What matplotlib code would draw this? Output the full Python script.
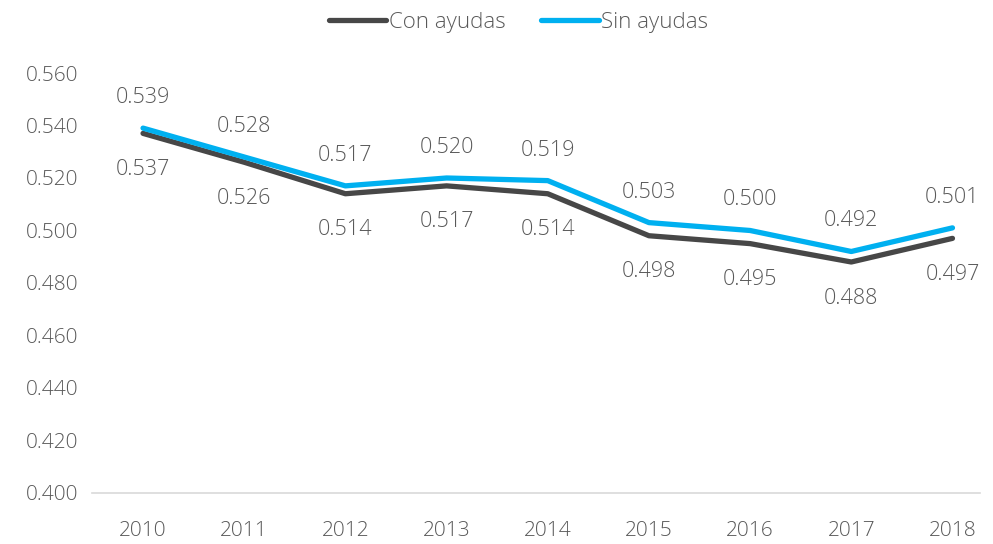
import numpy as np
import matplotlib.pyplot as plt

plt.rcParams['font.family'] = ['Open Sans', 'DejaVu Sans']
plt.rcParams['font.weight'] = 'light'

years = [2010, 2011, 2012, 2013, 2014, 2015, 2016, 2017, 2018]
con_ayudas = [0.537, 0.526, 0.514, 0.517, 0.514, 0.498, 0.495, 0.488, 0.497]
sin_ayudas = [0.539, 0.528, 0.517, 0.520, 0.519, 0.503, 0.500, 0.492, 0.501]

gray_txt = '#595959'
dark = '#474747'
blue = '#00B0F0'

fig = plt.figure(figsize=(9.93, 5.44), dpi=100)
ax = fig.add_axes([0.0927, 0.0938, 0.894, 0.772])

x = np.arange(len(years))
ax.plot(x, con_ayudas, color=dark, lw=3.8, label='Con ayudas', solid_capstyle='round')
ax.plot(x, sin_ayudas, color=blue, lw=3.8, label='Sin ayudas', solid_capstyle='round')

for i in range(len(years)):
    ax.annotate(f'{sin_ayudas[i]:.3f}', (x[i], sin_ayudas[i]), xytext=(0, 22),
                textcoords='offset points', ha='center', va='center',
                fontsize=15.5, color=gray_txt)
    ax.annotate(f'{con_ayudas[i]:.3f}', (x[i], con_ayudas[i]), xytext=(0, -26),
                textcoords='offset points', ha='center', va='center',
                fontsize=15.5, color=gray_txt)

ax.set_xlim(-0.504, 8.27)
ax.set_ylim(0.400, 0.560)
ax.set_yticks(np.arange(0.400, 0.5601, 0.020))
ax.set_yticklabels([f'{v:.3f}' for v in np.arange(0.400, 0.5601, 0.020)])
ax.set_xticks(x)
ax.set_xticklabels([str(y) for y in years])
ax.tick_params(axis='both', length=0, labelsize=15, colors=gray_txt)
ax.tick_params(axis='x', pad=20)
ax.tick_params(axis='y', pad=10)

for s in ['top', 'right', 'left']:
    ax.spines[s].set_visible(False)
ax.spines['bottom'].set_color('#D9D9D9')
ax.spines['bottom'].set_linewidth(1.2)

leg = fig.legend(loc='upper center', bbox_to_anchor=(0.522, 1.015), ncol=2, frameon=False,
                 fontsize=16, handlelength=2.6, handletextpad=0.1, columnspacing=1.6)
for t in leg.get_texts():
    t.set_color(gray_txt)

fig.savefig('out.png', dpi=100)
